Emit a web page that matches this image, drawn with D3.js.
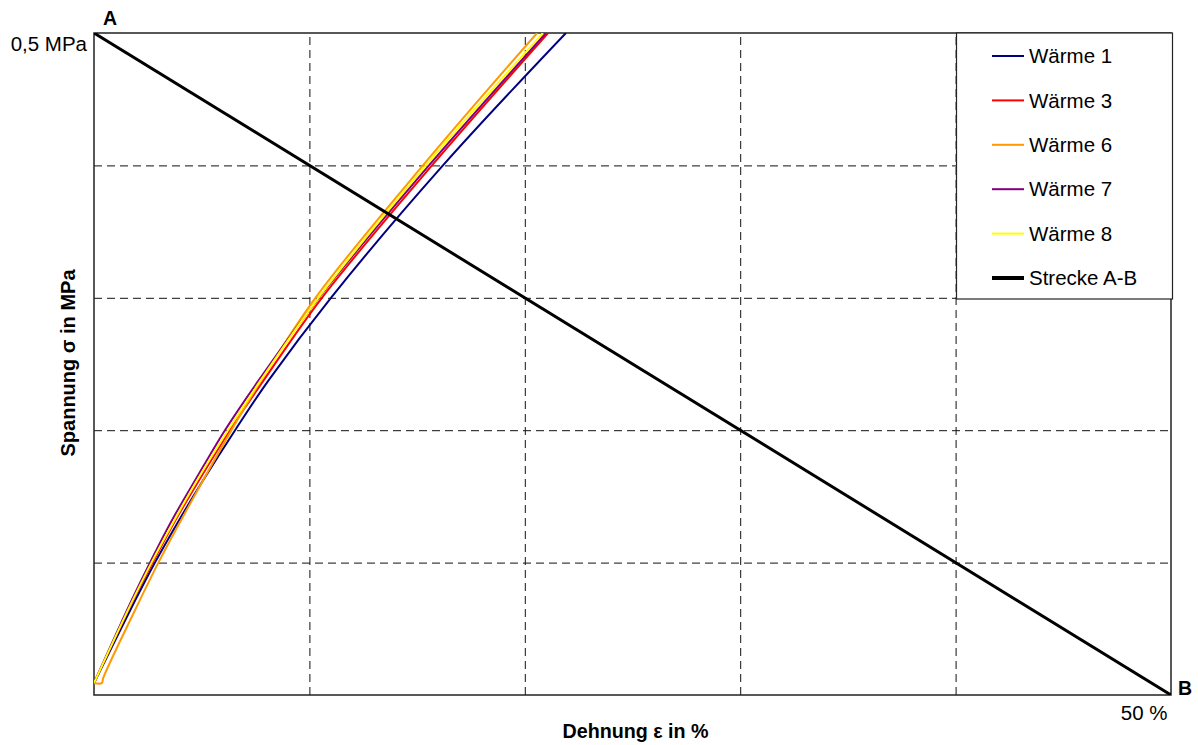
<!DOCTYPE html>
<html>
<head>
<meta charset="utf-8">
<script src="https://cdn.jsdelivr.net/npm/d3@7"></script>
<style>
  html, body { margin: 0; padding: 0; background: #fff; }
  svg { display: block; }
  text { font-family: "Liberation Sans", Arial, sans-serif; fill: #000; }
</style>
</head>
<body>
<svg id="chart" width="1198" height="745"></svg>
<script>
// ---- data: [strain %, stress MPa] ----
const waerme1 = [[0,0.009],[1.93,0.072],[2.83,0.100],[3.95,0.132],[5.06,0.162],[6.55,0.200],[8.12,0.238],[11.00,0.300],[16.20,0.400],[21.91,0.500]];
const waerme3 = [[0,0.009],[1.83,0.072],[2.72,0.100],[3.78,0.132],[4.87,0.162],[6.31,0.200],[7.89,0.238],[10.58,0.300],[15.69,0.400],[21.08,0.500]];
const waerme6 = [[0,0.009],[0.36,0.009],[0.43,0.013],[2.14,0.072],[2.99,0.100],[4.04,0.132],[6.38,0.200],[7.77,0.238],[10.28,0.300],[15.27,0.400],[20.57,0.500]];
const waerme7 = [[0,0.009],[1.76,0.072],[2.60,0.100],[3.62,0.132],[4.69,0.162],[6.08,0.200],[7.66,0.238],[10.44,0.300],[15.55,0.400],[20.98,0.500]];
const waerme8 = [[0,0.009],[1.81,0.072],[2.67,0.100],[3.73,0.132],[4.78,0.162],[6.22,0.200],[7.75,0.238],[10.42,0.300],[15.41,0.400],[20.84,0.500]];
const streckeAB = [[0,0.5],[50,0]];

const seriesNames = ["Wärme 1","Wärme 3","Wärme 6","Wärme 7","Wärme 8","Strecke A-B"];
const seriesColors = ["#000080","#ff0000","#ff9900","#800080","#ffff00","#000000"];
const seriesData = [waerme1, waerme3, waerme6, waerme7, waerme8, streckeAB];

const xGrid = [10,20,30,40];
const yGrid = [0.1,0.2,0.3,0.4];
const xTickLabel = [50];
const yTickLabel = [0.5];

// ---- layout ----
const svg = d3.select("#chart");
const L = 94, R = 1171, T = 33, B = 695;
const x = d3.scaleLinear().domain([0,50]).range([L,R]);
const y = d3.scaleLinear().domain([0,0.5]).range([B,T]);

// grid
svg.append("g")
  .attr("transform", `translate(0,${B})`)
  .call(d3.axisBottom(x).tickValues(xGrid).tickSize(-(B-T)).tickFormat(""))
  .call(g => g.select(".domain").remove())
  .call(g => g.selectAll("line").attr("stroke","#111").attr("stroke-dasharray","8,5").attr("stroke-width",1));
svg.append("g")
  .attr("transform", `translate(${L},0)`)
  .call(d3.axisLeft(y).tickValues(yGrid).tickSize(-(R-L)).tickFormat(""))
  .call(g => g.select(".domain").remove())
  .call(g => g.selectAll("line").attr("stroke","#111").attr("stroke-dasharray","8,5").attr("stroke-width",1));

// frame
svg.append("rect").attr("x",L).attr("y",T).attr("width",R-L).attr("height",B-T)
  .attr("fill","none").attr("stroke","#222").attr("stroke-width",1.5);

// tick labels
svg.append("g")
  .attr("transform", `translate(${L},0)`)
  .call(d3.axisLeft(y).tickValues(yTickLabel).tickSize(0).tickPadding(7).tickFormat(() => "0,5 MPa"))
  .call(g => g.select(".domain").remove())
  .call(g => g.selectAll("text").attr("font-size",20.5).attr("font-family","Liberation Sans, Arial, sans-serif").attr("fill","#000").attr("dy","0.85em"));
svg.append("g")
  .attr("transform", `translate(0,${B})`)
  .call(d3.axisBottom(x).tickValues(xTickLabel).tickSize(0).tickPadding(10).tickFormat(() => "50 %"))
  .call(g => g.select(".domain").remove())
  .call(g => g.selectAll("text").attr("font-size",20.5).attr("font-family","Liberation Sans, Arial, sans-serif").attr("fill","#000").attr("text-anchor","end").attr("dx","-4"));

// lines
const line = d3.line().x(d => x(d[0])).y(d => y(d[1])).curve(d3.curveCatmullRom.alpha(0.5));
svg.append("defs").append("clipPath").attr("id","clip")
  .append("rect").attr("x",L).attr("y",T).attr("width",R-L).attr("height",B-T);
const lg = svg.append("g").attr("clip-path","url(#clip)");
seriesData.forEach((d,i) => {
  lg.append("path").datum(d).attr("d", line)
    .attr("fill","none").attr("stroke", seriesColors[i])
    .attr("stroke-width", i === 5 ? 3 : 2)
    .attr("stroke-linejoin","round");
});

// A / B labels
svg.append("text").attr("x", x(0)+9).attr("y", y(0.5)-8).attr("font-size",19.5).attr("font-weight","bold").text("A");
svg.append("text").attr("x", x(50)+7).attr("y", y(0)).attr("font-size",19.5).attr("font-weight","bold").text("B");

// axis titles
svg.append("text").attr("x", (L+R)/2 + 3).attr("y", 738).attr("text-anchor","middle")
  .attr("font-size",19.7).attr("font-weight","bold").text("Dehnung ε in %");
svg.append("text").attr("transform", `translate(75,363) rotate(-90)`).attr("text-anchor","middle")
  .attr("font-size",20).attr("font-weight","bold").text("Spannung σ in MPa");

// legend
const leg = svg.append("g");
leg.append("rect").attr("x",956.5).attr("y",33).attr("width",216).attr("height",266)
  .attr("fill","#fff").attr("stroke","#222").attr("stroke-width",1.2);
const legY = d3.scalePoint().domain(seriesNames).range([56,278]);
seriesNames.forEach((n,i) => {
  leg.append("line").attr("x1",992).attr("x2",1024).attr("y1",legY(n)).attr("y2",legY(n))
    .attr("stroke",seriesColors[i]).attr("stroke-width", i === 5 ? 4 : 2);
  leg.append("text").attr("x",1029).attr("y",legY(n)).attr("dy","0.35em")
    .attr("font-size",20.5).text(n);
});
</script>
</body>
</html>
